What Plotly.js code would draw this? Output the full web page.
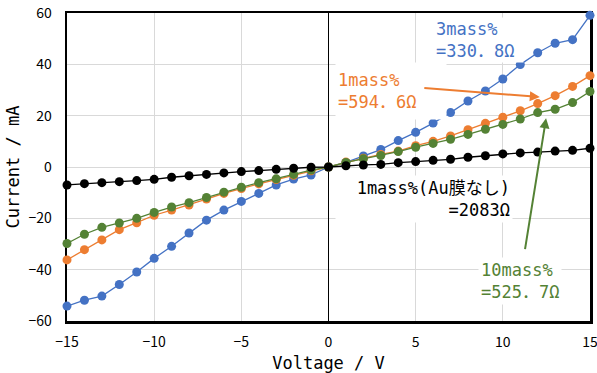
<!DOCTYPE html>
<html>
<head>
<meta charset="utf-8">
<script src="https://cdn.plot.ly/plotly-3.0.1.min.js"></script>
<style>html,body{margin:0;padding:0;background:#fff;}#chart{width:597px;height:373px;}</style>
</head>
<body>
<div id="chart"></div>
<script>
// Voltage (V)
const voltage = [-15,-14,-13,-12,-11,-10,-9,-8,-7,-6,-5,-4,-3,-2,-1,0,1,2,3,4,5,6,7,8,9,10,11,12,13,14,15];
// Current (mA) per sample
const current3mass = [-54.2,-51.9,-50.3,-45.8,-40.9,-35.6,-30.9,-25.7,-20.7,-16.8,-13.4,-10.3,-7.0,-4.7,-3.1,0,1.8,4.3,6.8,10.3,13.5,17.1,21.2,25.7,29.6,34.3,39.9,44.5,48.2,49.6,59.1];
const current1mass = [-36.2,-32.2,-28.4,-24.4,-21.7,-18.8,-16.8,-14.8,-12.5,-10.3,-8.4,-6.6,-4.9,-3.2,-1.5,0,1.9,3.4,4.9,6.2,8.3,10.0,12.1,14.5,17.0,19.4,21.9,24.7,27.8,31.4,35.6];
const current10mass = [-29.8,-26.2,-23.5,-21.8,-20.0,-17.7,-15.6,-13.9,-11.9,-9.8,-7.9,-6.1,-4.6,-2.9,-1.2,0,1.8,3.2,4.5,6.0,7.7,9.2,10.8,12.7,14.7,16.6,18.7,21.2,22.5,25.1,29.4];
const current1massNoAu = [-7.0,-6.5,-6.1,-5.7,-5.3,-4.8,-4.0,-3.4,-2.9,-2.3,-1.8,-1.4,-0.9,-0.5,-0.1,0,0.5,0.8,1.0,1.7,2.1,2.6,3.0,3.8,4.4,5.1,5.5,5.8,6.2,6.5,7.3];
const xTicks = [-15,-10,-5,0,5,10,15];
const yTicks = [-60,-40,-20,0,20,40,60];

const BLUE = '#4472C4', ORANGE = '#ED7D31', GREEN = '#548235', BLACK = '#000000';
function series(y, color, name){
  return {x: voltage, y: y, name: name, type: 'scatter', mode: 'lines+markers',
    line: {color: color, width: 1.3}, marker: {color: color, size: 9},
    cliponaxis: false, showlegend: false};
}
const traces = [
  series(current3mass, BLUE, '3mass%'),
  series(current1mass, ORANGE, '1mass%'),
  series(current10mass, GREEN, '10mass%'),
  series(current1massNoAu, BLACK, '1mass%(Au膜なし)')
];

const monoFont = 'DejaVu Sans Mono, Noto Sans CJK JP, monospace';
const annFont = (c) => ({family: monoFont, size: 17, color: c});
const fmt = v => v < 0 ? '\u2212' + Math.abs(v) : String(v);
const layout = {
  width: 597, height: 373,
  margin: {l: 67, r: 7, t: 13, b: 52},
  paper_bgcolor: '#ffffff', plot_bgcolor: '#ffffff',
  font: {family: 'Noto Sans CJK JP, sans-serif', size: 14, color: '#000'},
  xaxis: {
    range: [-15, 15], tickvals: xTicks, ticktext: xTicks.map(fmt), ticklabeloverflow: 'allow',
    showgrid: true, gridcolor: '#d9d9d9', gridwidth: 1,
    zeroline: true, zerolinecolor: '#000000', zerolinewidth: 1,
    showline: true, linecolor: '#000000', linewidth: 2.5, mirror: true,
    ticks: 'outside', ticklen: 7, tickcolor: 'rgba(0,0,0,0)', layer: 'below traces',
    tickfont: {family: 'Noto Sans CJK JP, sans-serif', size: 14, color: '#000'},
    title: {text: 'Voltage / V', font: {family: monoFont, size: 17, color: '#000'}, standoff: 8}
  },
  yaxis: {
    range: [-60, 60], tickvals: yTicks, ticktext: yTicks.map(fmt),
    showgrid: true, gridcolor: '#d9d9d9', gridwidth: 1,
    zeroline: true, zerolinecolor: '#d9d9d9', zerolinewidth: 1,
    showline: true, linecolor: '#000000', linewidth: 2.5, mirror: true,
    ticks: 'outside', ticklen: 10, tickcolor: 'rgba(0,0,0,0)', layer: 'below traces',
    tickfont: {family: 'Noto Sans CJK JP, sans-serif', size: 14, color: '#000'},
    title: {text: 'Current / mA', font: {family: monoFont, size: 17, color: '#000'}, standoff: 5}
  },
  annotations: [
    {xref: 'x', yref: 'y', x: 6.06, y: 49.3, xanchor: 'left', yanchor: 'middle', align: 'left',
     text: '3mass%<br>=330．8Ω', showarrow: false, font: annFont(BLUE), bgcolor: '#ffffff', borderpad: 1, width: 86},
    {xref: 'x', yref: 'y', x: 0.4, y: 29.6, xanchor: 'left', yanchor: 'middle', align: 'left',
     text: '1mass%<br>=594．6Ω', showarrow: false, font: annFont(ORANGE), bgcolor: '#ffffff', borderpad: 2, width: 106, height: 52},
    {xref: 'x', yref: 'y', x: 10.6, y: -12.5, xanchor: 'right', yanchor: 'middle', align: 'right',
     text: '1mass%(Au膜なし)<br>=2083Ω', showarrow: false, font: annFont(BLACK), bgcolor: '#ffffff', borderpad: 2, width: 172},
    {xref: 'x', yref: 'y', x: 8.57, y: -44.6, xanchor: 'left', yanchor: 'middle', align: 'left',
     text: '10mass%<br>=525．7Ω', showarrow: false, font: annFont(GREEN), bgcolor: '#ffffff', borderpad: 2},
    // arrows
    {xref: 'x', yref: 'y', axref: 'x', ayref: 'y', x: 12.12, y: 27.3, ax: 5.41, ay: 30.8,
     text: '', showarrow: true, arrowhead: 2, arrowsize: 1, arrowwidth: 2, arrowcolor: ORANGE},
    {xref: 'x', yref: 'y', axref: 'x', ayref: 'y', x: 12.48, y: 19.0, ax: 11.26, ay: -32.6,
     text: '', showarrow: true, arrowhead: 2, arrowsize: 1, arrowwidth: 2, arrowcolor: GREEN}
  ]
};
Plotly.newPlot('chart', traces, layout, {displayModeBar: false, staticPlot: true});
</script>
</body>
</html>
